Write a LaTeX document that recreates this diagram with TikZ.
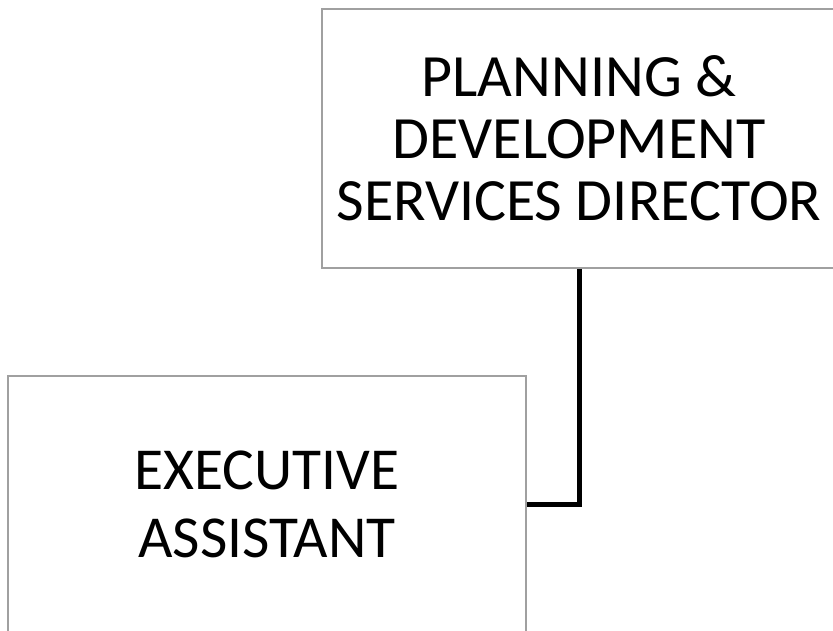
\documentclass[tikz,border=0pt]{standalone}
\usepackage{fontspec}
\setmainfont{Carlito}
\begin{document}
\begin{tikzpicture}[x=1pt,y=-1pt,
  box/.style={draw={rgb,255:red,160;green,160;blue,160}, line width=1.5pt, fill=white, align=center, inner sep=0pt},
  conn/.style={draw=black, line width=5pt}]
\useasboundingbox (0,0) rectangle (833,630);
\node[box, minimum width=514pt, minimum height=259pt, font=\fontsize{60}{62}\selectfont] (top) at (579,138.5) {PLANNING \&\\DEVELOPMENT\\SERVICES DIRECTOR};
\node[box, minimum width=518pt, minimum height=256pt, font=\fontsize{59.5}{68}\selectfont] (bot) at (267,504) {EXECUTIVE\\ASSISTANT};
\draw[conn] (top.south) |- (bot.east);
\end{tikzpicture}
\end{document}
